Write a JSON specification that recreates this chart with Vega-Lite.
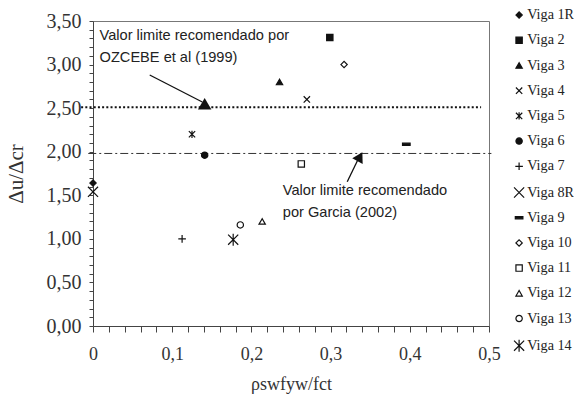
{
  "$schema": "https://vega.github.io/schema/vega-lite/v6.json",
  "autosize": "none",
  "width": 396,
  "height": 305,
  "padding": {"left": 93, "top": 21, "right": 85, "bottom": 76},
  "background": "white",
  "config": {
    "view": {"stroke": "#777", "strokeWidth": 1},
    "axis": {
      "domainColor": "#444",
      "tickColor": "#444",
      "labelFont": "Liberation Serif",
      "labelFontSize": 17,
      "labelColor": "#333",
      "titleFont": "Liberation Serif",
      "titleFontWeight": "normal",
      "titleColor": "#333",
      "grid": false,
      "labelOverlap": false
    }
  },
  "encoding": {
    "x": {
      "field": "x", "type": "quantitative",
      "scale": {"domain": [0, 0.5], "nice": false},
      "axis": {
        "title": "ρswfyw/fct",
        "titleFontSize": 18,
        "titlePadding": 12,
        "values": [0, 0.02, 0.04, 0.06, 0.08, 0.1, 0.12, 0.14, 0.16, 0.18, 0.2, 0.22, 0.24, 0.26, 0.28, 0.3, 0.32, 0.34, 0.36, 0.38, 0.4, 0.42, 0.44, 0.46, 0.48, 0.5],
        "labelExpr": "abs(datum.value*10 - round(datum.value*10)) < 0.000001 ? replace(format(datum.value, '.1~f'), '.', ',') : ''",
        "labelOverlap": false,
        "labelFlush": false,
        "labelFontSize": 18,
        "tickSize": 6,
        "labelPadding": 13
      }
    },
    "y": {
      "field": "y", "type": "quantitative",
      "scale": {"domain": [0, 3.5], "nice": false},
      "axis": {
        "title": "Δu/Δcr",
        "titleFontSize": 21,
        "titlePadding": 20,
        "values": [0, 0.1, 0.2, 0.3, 0.4, 0.5, 0.6, 0.7, 0.8, 0.9, 1, 1.1, 1.2, 1.3, 1.4, 1.5, 1.6, 1.7, 1.8, 1.9, 2, 2.1, 2.2, 2.3, 2.4, 2.5, 2.6, 2.7, 2.8, 2.9, 3, 3.1, 3.2, 3.3, 3.4, 3.5],
        "labelExpr": "abs(datum.value*2 - round(datum.value*2)) < 0.000001 ? replace(format(datum.value, '.2f'), '.', ',') : ''",
        "labelOverlap": false,
        "labelFlush": false,
        "labelFontSize": 20,
        "tickSize": 4,
        "labelPadding": 8
      }
    }
  },
  "layer": [
    {
      "data": {"values": [{"x": -0.015, "x2": 0.49, "y": 2.51}]},
      "mark": {"type": "rule", "stroke": "#111", "strokeWidth": 2, "strokeDash": [2, 2.2]},
      "encoding": {"x2": {"field": "x2"}}
    },
    {
      "data": {"values": [{"x": -0.006, "x2": 0.503, "y": 1.98}]},
      "mark": {"type": "rule", "stroke": "#333", "strokeWidth": 1, "strokeDash": [8, 3, 2, 3]},
      "encoding": {"x2": {"field": "x2"}}
    },
    {
      "data": {"values": [
        {"x": 0.0716, "y": 2.88, "x2": 0.138, "y2": 2.57},
        {"x": 0.321, "y": 1.655, "x2": 0.334, "y2": 1.9}
      ]},
      "mark": {"type": "rule", "stroke": "#111", "strokeWidth": 1.3},
      "encoding": {"x2": {"field": "x2"}, "y2": {"field": "y2"}}
    },
    {
      "data": {"values": [{"x": 0.141, "y": 2.55}]},
      "mark": {"type": "point", "shape": "triangle-up", "filled": true, "fill": "#111", "size": 180, "opacity": 1},
      "encoding": {}
    },
    {
      "data": {"values": [{"x": 0.337, "y": 1.943}]},
      "mark": {"type": "point", "shape": "triangle-right", "filled": true, "fill": "#111", "size": 140, "angle": 298.4, "opacity": 1},
      "encoding": {}
    },
    {
      "data": {"values": [
        {"x": 0.0083, "y": 3.418, "label": "Valor limite recomendado por\nOZCEBE et al (1999)"},
        {"x": 0.2396, "y": 1.637, "label": "Valor limite recomendado\npor Garcia (2002)"}
      ]},
      "mark": {"type": "text", "align": "left", "baseline": "top", "font": "Liberation Sans", "fontSize": 14.6, "lineHeight": 21.5, "lineBreak": "\n", "color": "#222"},
      "encoding": {"text": {"field": "label"}}
    },
    {
      "data": {"values": [
        {"viga": "Viga 1R", "x": 0, "y": 1.64},
        {"viga": "Viga 2", "x": 0.299, "y": 3.31},
        {"viga": "Viga 3", "x": 0.2355, "y": 2.8},
        {"viga": "Viga 4", "x": 0.27, "y": 2.6},
        {"viga": "Viga 5", "x": 0.125, "y": 2.2},
        {"viga": "Viga 6", "x": 0.141, "y": 1.96},
        {"viga": "Viga 7", "x": 0.1125, "y": 1.0},
        {"viga": "Viga 8R", "x": 0, "y": 1.54},
        {"viga": "Viga 9", "x": 0.3956, "y": 2.085},
        {"viga": "Viga 10", "x": 0.317, "y": 3.0},
        {"viga": "Viga 11", "x": 0.263, "y": 1.86},
        {"viga": "Viga 12", "x": 0.2136, "y": 1.2},
        {"viga": "Viga 13", "x": 0.186, "y": 1.16},
        {"viga": "Viga 14", "x": 0.177, "y": 0.99}
      ]},
      "mark": {"type": "point", "filled": true, "size": 40, "stroke": "#111", "strokeWidth": 1.2, "opacity": 1},
      "encoding": {
        "shape": {
          "field": "viga", "type": "nominal",
          "scale": {
            "domain": ["Viga 1R", "Viga 2", "Viga 3", "Viga 4", "Viga 5", "Viga 6", "Viga 7", "Viga 8R", "Viga 9", "Viga 10", "Viga 11", "Viga 12", "Viga 13", "Viga 14"],
            "range": [
              "diamond",
              "square",
              "triangle-up",
              "M-1,-1L1,1M-1,1L1,-1",
              "M-1,-1L1,1M-1,1L1,-1M0,-1.15L0,1.15",
              "circle",
              "M-1.2,0L1.2,0M0,-1.2L0,1.2",
              "M-1.6,-1.6L1.6,1.6M-1.6,1.6L1.6,-1.6",
              "M-1.2,-0.35L1.2,-0.35L1.2,0.35L-1.2,0.35Z",
              "diamond",
              "square",
              "triangle-up",
              "circle",
              "M-1.6,-1.6L1.6,1.6M-1.6,1.6L1.6,-1.6M0,-1.9L0,1.9"
            ]
          },
          "legend": {
            "title": null,
            "orient": "none",
            "legendX": 419,
            "legendY": -13,
            "padding": 0,
            "symbolSize": 40,
            "symbolStrokeColor": "#111",
            "symbolStrokeWidth": 1.2,
            "symbolOpacity": 1,
            "labelFont": "Liberation Serif",
            "labelFontSize": 14.2,
            "labelColor": "#222",
            "labelOffset": 1,
            "rowPadding": 10.2,
            "encode": {"symbols": {"update": {"stroke": {"value": "#111"}, "strokeWidth": {"value": 1.2}}}}
          }
        },
        "fill": {
          "field": "viga", "type": "nominal",
          "scale": {
            "domain": ["Viga 1R", "Viga 2", "Viga 3", "Viga 4", "Viga 5", "Viga 6", "Viga 7", "Viga 8R", "Viga 9", "Viga 10", "Viga 11", "Viga 12", "Viga 13", "Viga 14"],
            "range": ["#111", "#111", "#111", "#111", "#111", "#111", "#111", "#111", "#111", "white", "white", "white", "white", "#111"]
          },
          "legend": {
            "title": null,
            "orient": "none",
            "legendX": 419,
            "legendY": -13,
            "padding": 0,
            "symbolSize": 40,
            "symbolStrokeColor": "#111",
            "symbolStrokeWidth": 1.2,
            "symbolOpacity": 1,
            "labelFont": "Liberation Serif",
            "labelFontSize": 14.2,
            "labelColor": "#222",
            "labelOffset": 1,
            "rowPadding": 10.2,
            "encode": {"symbols": {"update": {"stroke": {"value": "#111"}, "strokeWidth": {"value": 1.2}}}}
          }
        }
      }
    }
  ]
}
